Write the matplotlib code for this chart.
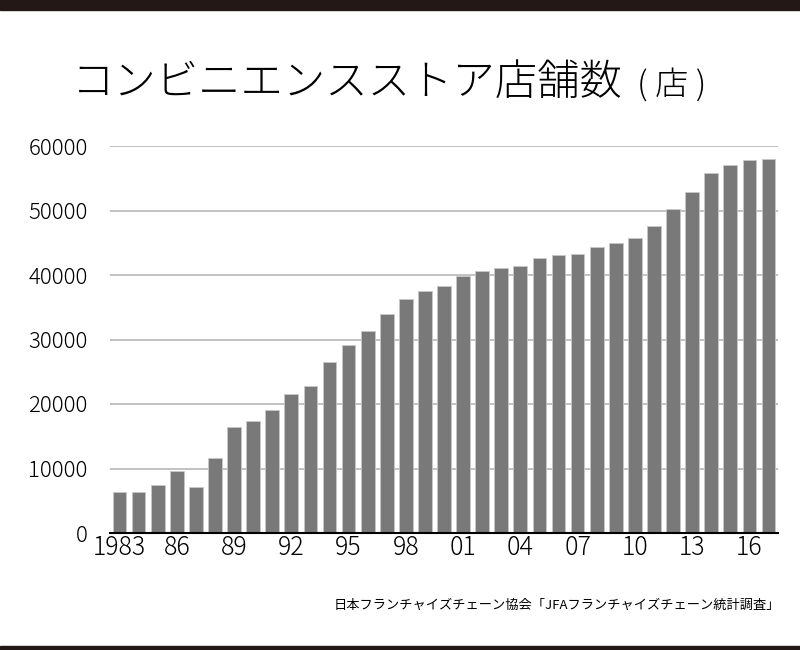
import matplotlib.pyplot as plt
from matplotlib.patches import Rectangle

plt.rcParams['font.family'] = ['Noto Sans CJK JP', 'DejaVu Sans']

# store counts per year (JFA statistics)
years = list(range(1983, 2018))
stores = [6300, 6300, 7440, 9600, 7060, 11620, 16470, 17400, 19100, 21530,
          22860, 26540, 29120, 31390, 33970, 36250, 37580, 38310, 39860, 40630,
          41150, 41410, 42700, 43110, 43270, 44400, 45020, 45790, 47600, 50240,
          52920, 55820, 57050, 57830, 57990]
tick_labels = ["1983", "86", "89", "92", "95", "98", "01", "04", "07", "10", "13", "16"]
y_ticks = [0, 10000, 20000, 30000, 40000, 50000, 60000]

title = "コンビニエンスストア店舗数"
unit = "( 店 )"
source = "日本フランチャイズチェーン協会「JFAフランチャイズチェーン統計調査」"

fig = plt.figure(figsize=(8, 6.5), dpi=100)

# dark bands at top and bottom of the image
fig.patches.append(Rectangle((0, 1 - 10 / 650), 1, 10 / 650, transform=fig.transFigure,
                             color="#231815", zorder=0))
fig.patches.append(Rectangle((0, 0), 1, 4 / 650, transform=fig.transFigure,
                             color="#231815", zorder=0))

ax = fig.add_axes([110 / 800, 117 / 650, 668 / 800, 387 / 650])

x = list(range(len(years)))
ax.bar(x, stores, width=0.72, color="#797979", edgecolor="#c8c8c8", linewidth=0.6, zorder=3)

ax.set_xlim(-0.5, len(years) - 0.5)
ax.set_ylim(0, 60000)
ax.set_yticks(y_ticks)
ax.set_yticklabels([str(v) for v in y_ticks], fontsize=16, fontweight="light")
ax.set_xticks(x[::3])
ax.set_xticklabels(tick_labels, fontsize=18, fontweight="light")
ax.tick_params(length=0)
ax.tick_params(axis="y", pad=16)
ax.tick_params(axis="x", pad=1)

ax.grid(axis="y", color="#bdbdbd", linewidth=1.3, zorder=0)
for side in ["top", "right", "left"]:
    ax.spines[side].set_visible(False)
ax.spines["bottom"].set_color("black")
ax.spines["bottom"].set_linewidth(1.5)
ax.spines["bottom"].set_zorder(4)

fig.text(72 / 800, 1 - 95 / 650, title, ha="left", va="baseline", fontsize=30.5, fontweight="light")
fig.text(637 / 800, 1 - 95 / 650, unit, ha="left", va="baseline", fontsize=24, fontweight="light")
fig.text(780 / 800, 1 - 605 / 650, source, ha="right", va="center", fontsize=9.5)

fig.savefig("out.png", dpi=100)
